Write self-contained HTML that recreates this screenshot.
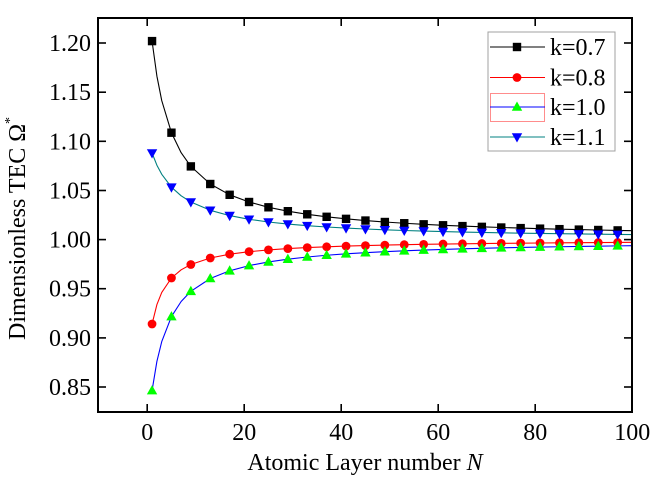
<!DOCTYPE html>
<html><head><meta charset="utf-8"><style>
html,body{margin:0;padding:0;background:#fff;}
svg{display:block;}
svg text{font-family:"Liberation Serif","Times New Roman",serif;fill:#000;}
</style></head><body>
<svg width="654" height="477" viewBox="0 0 654 477" xmlns="http://www.w3.org/2000/svg" font-family="'Liberation Serif', 'Times New Roman', serif">
<defs>
<rect id="sq" x="-4.2" y="-4.2" width="8.4" height="8.4" fill="#000"/>
<circle id="ci" cx="0" cy="0" r="4.4" fill="#ff0000"/>
<polygon id="tu" points="0,-5.5 5.2,3.8 -5.2,3.8" fill="#00ff00"/>
<polygon id="td" points="0,5.5 5.2,-3.8 -5.2,-3.8" fill="#0000ff"/>
</defs>
<rect x="0" y="0" width="654" height="477" fill="#fff"/>

<g fill="none" stroke-width="1.1" stroke-linejoin="round">
<polyline stroke="#000" points="152.05,41.1 156.9,76.1 161.75,100.6 171.45,132.7 181.15,152.7 190.85,166.4 210.25,184.0 229.65,194.8 249.05,202.0 268.45,207.3 287.85,211.2 307.25,214.3 326.65,216.8 346.05,218.85 365.45,220.55 384.85,222.0 404.25,223.24 423.65,224.32 443.05,225.27 462.45,226.1 481.85,226.85 501.25,227.51 520.65,228.11 540.05,228.65 559.45,229.15 578.85,229.6 598.25,230.0 617.65,230.4 632.2,230.66"/>
<polyline stroke="#ff0000" points="152.05,324.0 156.9,304.6 161.75,292.4 171.45,278.0 181.15,269.8 190.85,264.5 210.25,258.0 229.65,254.2 249.05,251.7 268.45,249.9 287.85,248.6 307.25,247.6 326.65,246.8 346.05,246.1 365.45,245.6 384.85,245.1 404.25,244.7 423.65,244.36 443.05,244.05 462.45,243.8 481.85,243.56 501.25,243.35 520.65,243.16 540.05,243.0 559.45,242.83 578.85,242.7 598.25,242.56 617.65,242.44 632.2,242.36"/>
<polyline stroke="#0000ff" points="152.05,390.6 156.9,361.4 161.75,341.6 171.45,316.6 181.15,301.5 190.85,291.3 210.25,278.5 229.65,270.8 249.05,265.6 268.45,261.9 287.85,259.16 307.25,257.0 326.65,255.26 346.05,253.84 365.45,252.66 384.85,251.66 404.25,250.8 423.65,250.06 443.05,249.4 462.45,248.83 481.85,248.32 501.25,247.86 520.65,247.45 540.05,247.07 559.45,246.74 578.85,246.42 598.25,246.14 617.65,245.88 632.2,245.7"/>
<polyline stroke="#008080" points="152.05,153.0 156.9,165.2 161.75,174.3 171.45,187.2 181.15,195.8 190.85,202.0 210.25,210.3 229.65,215.6 249.05,219.3 268.45,222.0 287.85,224.05 307.25,225.68 326.65,227.0 346.05,228.1 365.45,229.0 384.85,229.8 404.25,230.5 423.65,231.06 443.05,231.57 462.45,232.03 481.85,232.44 501.25,232.81 520.65,233.14 540.05,233.44 559.45,233.71 578.85,233.96 598.25,234.19 617.65,234.4 632.2,234.55"/>
</g>

<g>
<use href="#sq" x="152.05" y="41.1"/><use href="#sq" x="171.45" y="132.7"/><use href="#sq" x="190.85" y="166.4"/><use href="#sq" x="210.25" y="184.0"/><use href="#sq" x="229.65" y="194.8"/><use href="#sq" x="249.05" y="202.0"/><use href="#sq" x="268.45" y="207.3"/><use href="#sq" x="287.85" y="211.2"/><use href="#sq" x="307.25" y="214.3"/><use href="#sq" x="326.65" y="216.8"/><use href="#sq" x="346.05" y="218.85"/><use href="#sq" x="365.45" y="220.55"/><use href="#sq" x="384.85" y="222.0"/><use href="#sq" x="404.25" y="223.24"/><use href="#sq" x="423.65" y="224.32"/><use href="#sq" x="443.05" y="225.27"/><use href="#sq" x="462.45" y="226.1"/><use href="#sq" x="481.85" y="226.85"/><use href="#sq" x="501.25" y="227.51"/><use href="#sq" x="520.65" y="228.11"/><use href="#sq" x="540.05" y="228.65"/><use href="#sq" x="559.45" y="229.15"/><use href="#sq" x="578.85" y="229.6"/><use href="#sq" x="598.25" y="230.0"/><use href="#sq" x="617.65" y="230.4"/>
</g>
<g>
<use href="#ci" x="152.05" y="324.0"/><use href="#ci" x="171.45" y="278.0"/><use href="#ci" x="190.85" y="264.5"/><use href="#ci" x="210.25" y="258.0"/><use href="#ci" x="229.65" y="254.2"/><use href="#ci" x="249.05" y="251.7"/><use href="#ci" x="268.45" y="249.9"/><use href="#ci" x="287.85" y="248.6"/><use href="#ci" x="307.25" y="247.6"/><use href="#ci" x="326.65" y="246.8"/><use href="#ci" x="346.05" y="246.1"/><use href="#ci" x="365.45" y="245.6"/><use href="#ci" x="384.85" y="245.1"/><use href="#ci" x="404.25" y="244.7"/><use href="#ci" x="423.65" y="244.36"/><use href="#ci" x="443.05" y="244.05"/><use href="#ci" x="462.45" y="243.8"/><use href="#ci" x="481.85" y="243.56"/><use href="#ci" x="501.25" y="243.35"/><use href="#ci" x="520.65" y="243.16"/><use href="#ci" x="540.05" y="243.0"/><use href="#ci" x="559.45" y="242.83"/><use href="#ci" x="578.85" y="242.7"/><use href="#ci" x="598.25" y="242.56"/><use href="#ci" x="617.65" y="242.44"/>
</g>
<g>
<use href="#tu" x="152.05" y="390.6"/><use href="#tu" x="171.45" y="316.6"/><use href="#tu" x="190.85" y="291.3"/><use href="#tu" x="210.25" y="278.5"/><use href="#tu" x="229.65" y="270.8"/><use href="#tu" x="249.05" y="265.6"/><use href="#tu" x="268.45" y="261.9"/><use href="#tu" x="287.85" y="259.16"/><use href="#tu" x="307.25" y="257.0"/><use href="#tu" x="326.65" y="255.26"/><use href="#tu" x="346.05" y="253.84"/><use href="#tu" x="365.45" y="252.66"/><use href="#tu" x="384.85" y="251.66"/><use href="#tu" x="404.25" y="250.8"/><use href="#tu" x="423.65" y="250.06"/><use href="#tu" x="443.05" y="249.4"/><use href="#tu" x="462.45" y="248.83"/><use href="#tu" x="481.85" y="248.32"/><use href="#tu" x="501.25" y="247.86"/><use href="#tu" x="520.65" y="247.45"/><use href="#tu" x="540.05" y="247.07"/><use href="#tu" x="559.45" y="246.74"/><use href="#tu" x="578.85" y="246.42"/><use href="#tu" x="598.25" y="246.14"/><use href="#tu" x="617.65" y="245.88"/>
</g>
<g>
<use href="#td" x="152.05" y="153.0"/><use href="#td" x="171.45" y="187.2"/><use href="#td" x="190.85" y="202.0"/><use href="#td" x="210.25" y="210.3"/><use href="#td" x="229.65" y="215.6"/><use href="#td" x="249.05" y="219.3"/><use href="#td" x="268.45" y="222.0"/><use href="#td" x="287.85" y="224.05"/><use href="#td" x="307.25" y="225.68"/><use href="#td" x="326.65" y="227.0"/><use href="#td" x="346.05" y="228.1"/><use href="#td" x="365.45" y="229.0"/><use href="#td" x="384.85" y="229.8"/><use href="#td" x="404.25" y="230.5"/><use href="#td" x="423.65" y="231.06"/><use href="#td" x="443.05" y="231.57"/><use href="#td" x="462.45" y="232.03"/><use href="#td" x="481.85" y="232.44"/><use href="#td" x="501.25" y="232.81"/><use href="#td" x="520.65" y="233.14"/><use href="#td" x="540.05" y="233.44"/><use href="#td" x="559.45" y="233.71"/><use href="#td" x="578.85" y="233.96"/><use href="#td" x="598.25" y="234.19"/><use href="#td" x="617.65" y="234.4"/>
</g>

<rect x="98" y="18" width="534" height="394" fill="none" stroke="#000" stroke-width="2"/>
<g stroke="#000" stroke-width="1.6">
<line x1="147.2" y1="18" x2="147.2" y2="26"/><line x1="244.2" y1="18" x2="244.2" y2="26"/><line x1="341.2" y1="18" x2="341.2" y2="26"/><line x1="438.2" y1="18" x2="438.2" y2="26"/><line x1="535.2" y1="18" x2="535.2" y2="26"/>
<line x1="147.2" y1="412" x2="147.2" y2="404"/><line x1="244.2" y1="412" x2="244.2" y2="404"/><line x1="341.2" y1="412" x2="341.2" y2="404"/><line x1="438.2" y1="412" x2="438.2" y2="404"/><line x1="535.2" y1="412" x2="535.2" y2="404"/>
<line x1="98" y1="43" x2="106" y2="43"/><line x1="98" y1="92.2" x2="106" y2="92.2"/><line x1="98" y1="141.3" x2="106" y2="141.3"/><line x1="98" y1="190.5" x2="106" y2="190.5"/><line x1="98" y1="239.6" x2="106" y2="239.6"/><line x1="98" y1="288.7" x2="106" y2="288.7"/><line x1="98" y1="337.9" x2="106" y2="337.9"/><line x1="98" y1="387" x2="106" y2="387"/>
<line x1="632" y1="43" x2="624" y2="43"/><line x1="632" y1="92.2" x2="624" y2="92.2"/><line x1="632" y1="141.3" x2="624" y2="141.3"/><line x1="632" y1="190.5" x2="624" y2="190.5"/><line x1="632" y1="239.6" x2="624" y2="239.6"/><line x1="632" y1="288.7" x2="624" y2="288.7"/><line x1="632" y1="337.9" x2="624" y2="337.9"/><line x1="632" y1="387" x2="624" y2="387"/>
</g>

<g font-size="24" text-anchor="end" font-family="'Liberation Serif', 'Times New Roman', serif">
<text x="91" y="51">1.20</text>
<text x="91" y="100.2">1.15</text>
<text x="91" y="149.3">1.10</text>
<text x="91" y="198.5">1.05</text>
<text x="91" y="247.6">1.00</text>
<text x="91" y="296.7">0.95</text>
<text x="91" y="345.9">0.90</text>
<text x="91" y="395">0.85</text>
</g>
<g font-size="24" text-anchor="middle" font-family="'Liberation Serif', 'Times New Roman', serif">
<text x="147.2" y="440">0</text>
<text x="244.2" y="440">20</text>
<text x="341.2" y="440">40</text>
<text x="438.2" y="440">60</text>
<text x="535.2" y="440">80</text>
<text x="632.2" y="440">100</text>
</g>

<g font-family="'Liberation Serif', 'Times New Roman', serif">
<text x="365" y="470" font-size="24" text-anchor="middle">Atomic Layer number <tspan font-style="italic">N</tspan></text>
<text transform="translate(25,340) rotate(-90)" font-size="24">Dimensionless TEC Ω<tspan font-size="14" dy="-11">*</tspan></text>
</g>

<rect x="488" y="32" width="127" height="119" fill="#fff" stroke="#a0a0a0" stroke-width="1"/>
<line x1="490" y1="47" x2="545" y2="47" stroke="#000" stroke-width="1.1"/>
<use href="#sq" x="517" y="47"/>
<line x1="490" y1="77.5" x2="545" y2="77.5" stroke="#ff0000" stroke-width="1.1"/>
<use href="#ci" x="517" y="77.5"/>
<rect x="490.5" y="93.5" width="54" height="28" fill="none" stroke="#ff8c8c" stroke-width="1"/>
<line x1="490" y1="107" x2="545" y2="107" stroke="#0000ff" stroke-width="1.1"/>
<use href="#tu" x="517" y="107"/>
<line x1="490" y1="137" x2="545" y2="137" stroke="#008080" stroke-width="1.1"/>
<use href="#td" x="517" y="137"/>
<g font-size="24" font-family="'Liberation Serif', 'Times New Roman', serif">
<text x="550" y="55">k=0.7</text>
<text x="550" y="85.5">k=0.8</text>
<text x="550" y="115">k=1.0</text>
<text x="550" y="145">k=1.1</text>
</g>
</svg>
</body></html>
